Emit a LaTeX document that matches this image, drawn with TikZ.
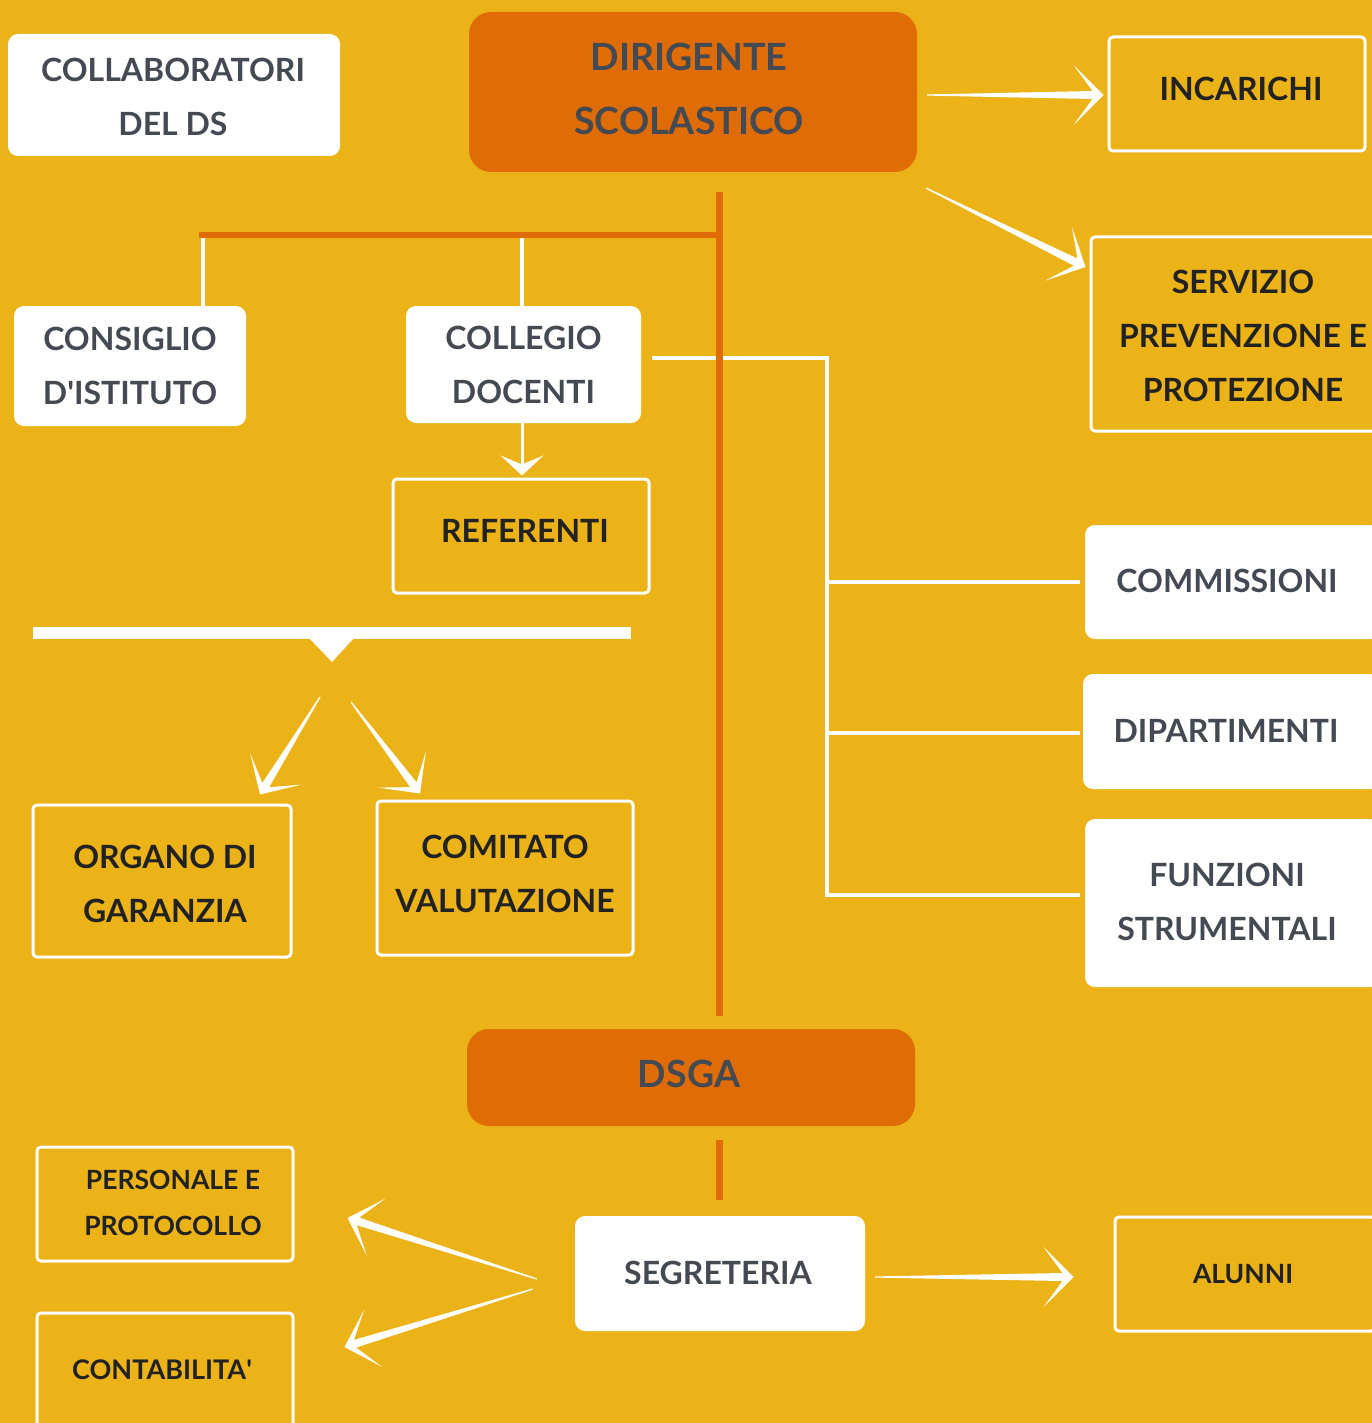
\documentclass[tikz,border=0pt]{standalone}
\usepackage{fontspec}
\setmainfont{Lato}
\usetikzlibrary{calc,arrows.meta}
\definecolor{bg}{HTML}{EBB317}
\definecolor{org}{HTML}{E06C06}
\definecolor{ink}{HTML}{434A54}
\definecolor{dark}{HTML}{222222}
\newcommand\fs[2]{\fontsize{#1}{#2}\selectfont\bfseries}
\newcommand\tarrow[2]{%
  \path (#1) coordinate (ta) (#2) coordinate (tb);
  \coordinate (ti) at ($(tb)!11pt!(ta)$);
  \coordinate (tw) at ($(tb)!30pt!(ta)$);
  \fill[white] ($(ta)!0.6pt!90:(tb)$) -- ($(ti)!4pt!90:(tb)$) -- ($(tw)!30pt!90:(tb)$) -- (tb)
    -- ($(tw)!30pt!-90:(tb)$) -- ($(ti)!4pt!-90:(tb)$) -- ($(ta)!0.6pt!-90:(tb)$) -- cycle;
}
\tikzset{
  wbox/.style={fill=white, rounded corners=10pt, text=ink, align=center, inner sep=0pt},
  obox/.style={fill=org, rounded corners=22pt, text=ink, align=center, inner sep=0pt},
  lbox/.style={draw=white, line width=3pt, rounded corners=4pt, text=dark, align=center, inner sep=0pt},
  txt/.style={align=center, inner sep=0pt},
  wline/.style={draw=white, line width=4pt},
  oline/.style={draw=org, line width=7pt},
}
\begin{document}
\begin{tikzpicture}[x=1pt,y=-1pt]
\useasboundingbox (0,0) rectangle (1372,1423);
\clip (0,0) rectangle (1372,1423);
\fill[bg] (0,0) rectangle (1372,1423);

% boxes
\node[wbox, minimum width=332, minimum height=122] (collab) at (174,95) {};
\node[txt, text=ink, font=\fs{32}{54}] (collabT) at (173,97) {COLLABORATORI\\DEL DS};
\node[obox, minimum width=448, minimum height=160] (dir) at (693,92) {};
\node[txt, text=ink, font=\fs{37.5}{64}] (dirT) at (689,89) {DIRIGENTE\\SCOLASTICO};
\node[lbox, minimum width=256, minimum height=114] (inc) at (1237,94) {};
\node[txt, text=dark, font=\fs{32}{54}] (incT) at (1241,89) {INCARICHI};
\node[lbox, minimum width=289, minimum height=194] (spp) at (1235.5,334) {};
\node[txt, text=dark, font=\fs{32}{54}] (sppT) at (1243,336) {SERVIZIO\\PREVENZIONE E\\PROTEZIONE};
\node[wbox, minimum width=232, minimum height=120, font=\fs{32}{54}] (cons) at (130,366) {CONSIGLIO\\D\textquotesingle ISTITUTO};
\node[wbox, minimum width=235, minimum height=117, font=\fs{32}{54}] (coll) at (523.5,364.5) {COLLEGIO\\DOCENTI};
\node[lbox, minimum width=256, minimum height=114] (ref) at (521,536) {};
\node[txt, text=dark, font=\fs{32}{54}] (refT) at (525,531) {REFERENTI};
\node[lbox, minimum width=258, minimum height=152] (org) at (162,881) {};
\node[txt, text=dark, font=\fs{32}{54}] (orgT) at (165,884) {ORGANO DI\\GARANZIA};
\node[lbox, minimum width=256, minimum height=154] (com) at (505,878) {};
\node[txt, text=dark, font=\fs{32}{54}] (comT) at (505,874) {COMITATO\\VALUTAZIONE};
\node[wbox, minimum width=295, minimum height=114] (comm) at (1232.5,582) {};
\node[txt, text=ink, font=\fs{32}{54}] (commT) at (1227,581) {COMMISSIONI};
\node[wbox, minimum width=297, minimum height=115] (dip) at (1231.5,731.5) {};
\node[txt, text=ink, font=\fs{32}{54}] (dipT) at (1226,731) {DIPARTIMENTI};
\node[wbox, minimum width=295, minimum height=168] (func) at (1232.5,903) {};
\node[txt, text=ink, font=\fs{32}{54}] (funcT) at (1227,902) {FUNZIONI\\STRUMENTALI};
\node[obox, minimum width=448, minimum height=97] (dsga) at (691,1077.5) {};
\node[txt, text=ink, font=\fs{37.5}{64}] (dsgaT) at (689,1074) {DSGA};
\node[lbox, minimum width=256, minimum height=114] (pers) at (165,1204) {};
\node[txt, text=dark, font=\fs{26.5}{46}] (persT) at (173,1203) {PERSONALE E\\PROTOCOLLO};
\node[lbox, minimum width=256, minimum height=127] (cont) at (165,1376.5) {};
\node[txt, text=dark, font=\fs{27}{46}] (contT) at (162,1370) {CONTABILITA\textquotesingle};
\node[wbox, minimum width=290, minimum height=115] (segr) at (720,1273.5) {};
\node[txt, text=ink, font=\fs{32}{54}] (segrT) at (718,1273) {SEGRETERIA};
\node[lbox, minimum width=260, minimum height=114] (alun) at (1245,1274) {};
\node[txt, text=dark, font=\fs{26.5}{46}] (alunT) at (1243,1274) {ALUNNI};

% white connectors
\draw[wline] ([xshift=73pt]cons.north) -- ++(0,-71);
\draw[wline] ([xshift=-1.5pt]coll.north) -- ++(0,-71);
\coordinate (trunk) at (827,358);
\coordinate (trunkB) at (827,895);
\draw[wline] ($(coll.east)+(11,-6.5)$) -- (trunk) -- (trunkB) -- ($(func.west |- trunkB)+(-5,0)$);
\draw[wline] (trunk |- comm.west) -- ($(comm.west)+(-5,0)$);
\draw[wline] ($(trunk |- dip.west)+(0,1.5)$) -- ($(dip.west)+(-3,1.5)$);
\draw[white, line width=3pt, shorten >=2pt, -{Stealth[length=20pt,width=43pt,inset=9pt]}] ([xshift=-1.5pt]coll.south) -- ([xshift=-1.5pt]coll.south |- ref.north);

% thick bar with notch
\coordinate (notch) at (332,662);
\fill[white] (33,627) rectangle (631,639);
\fill[white] (309,638) -- (354,638) -- (notch) -- cycle;

% orange spine
\coordinate (spineT) at (719,192);
\coordinate (spineB) at (719,1016);
\coordinate (branchL) at (199,235);
\draw[org, line width=6pt] (branchL) -- (branchL -| spineT);
\draw[oline] (spineT) -- (spineB);
\draw[oline] ([yshift=-14pt]dsga.south -| spineT) -- ([yshift=16pt]segr.north -| spineT);

% tapered arrows
\tarrow{$(dir.east)+(10,3)$}{$(inc.west)+(-4,1)$}
\tarrow{$(dir.south east)+(9,16)$}{$(spp.west)+(-4,-67)$}
\tarrow{$(notch)+(-12,35)$}{$(org.north)+(98,-9)$}
\tarrow{$(notch)+(19,40)$}{$(com.north)+(-85,-6)$}
\tarrow{$(segr.west)+(-38,5.5)$}{$(pers.east)+(53,14)$}
\tarrow{$(segr.west)+(-42,15.5)$}{$(cont.east)+(50,-29.5)$}
\tarrow{$(segr.east)+(10,3.5)$}{$(alun.west)+(-40,3)$}
\end{tikzpicture}
\end{document}
